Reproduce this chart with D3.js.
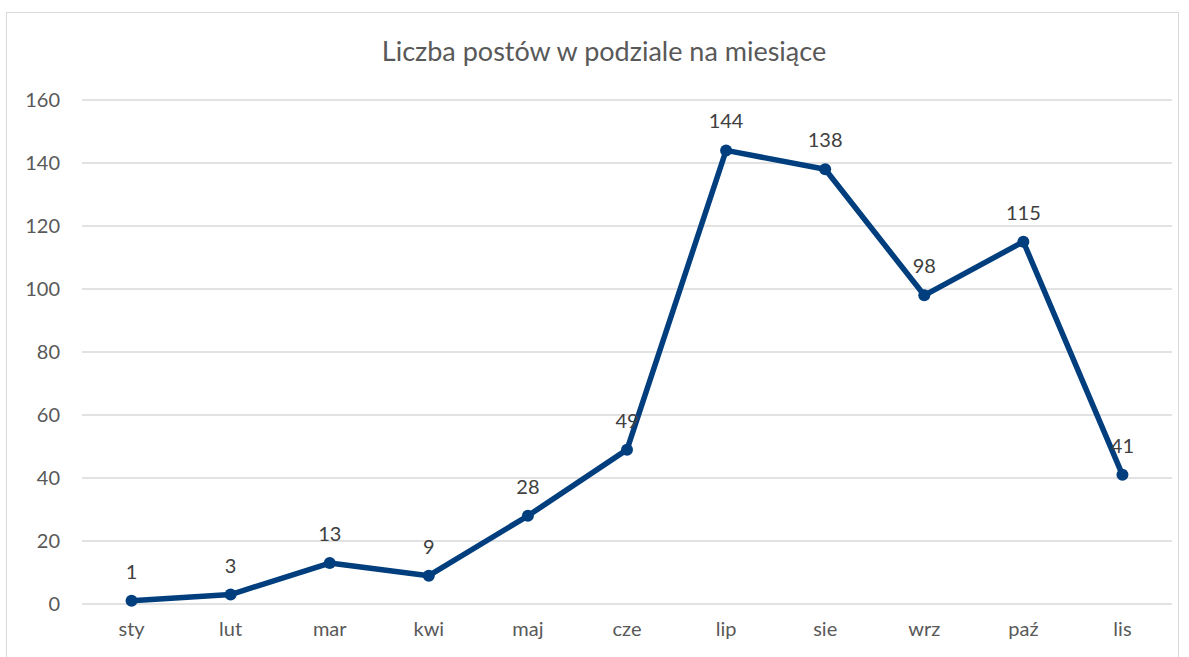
<!DOCTYPE html>
<html>
<head>
<meta charset="utf-8">
<script src="https://cdn.jsdelivr.net/npm/d3@7"></script>
<style>
  body { margin: 0; background: #fff; }
  svg text { font-family: Lato, "Open Sans", sans-serif; }
</style>
</head>
<body>
<div id="chart"></div>
<script>
// months and number of posts
var months = ["sty", "lut", "mar", "kwi", "maj", "cze", "lip", "sie", "wrz", "paź", "lis"];
var posts = [1, 3, 13, 9, 28, 49, 144, 138, 98, 115, 41];
var yTicks = [0, 20, 40, 60, 80, 100, 120, 140, 160];
var title = "Liczba postów w podziale na miesiące";

var width = 1189, height = 657;
var plotLeft = 82, plotRight = 1172, plotTop = 100, plotBottom = 604;

var svg = d3.select("#chart").append("svg").attr("width", width).attr("height", height);

// chart frame
svg.append("rect").attr("x", 6.5).attr("y", 12.5).attr("width", 1172).attr("height", 700)
    .attr("fill", "#fff").attr("stroke", "#d9d9d9").attr("stroke-width", 1);

var x = d3.scaleBand().domain(months).range([plotLeft, plotRight]);
var y = d3.scaleLinear().domain([0, 160]).range([plotBottom, plotTop]);

// gridlines
svg.append("g").selectAll("line").data(yTicks).enter().append("line")
    .attr("x1", plotLeft).attr("x2", plotRight)
    .attr("y1", function(d){ return y(d); }).attr("y2", function(d){ return y(d); })
    .attr("stroke", "#d9d9d9").attr("stroke-width", 1.5);

// y axis labels
var yAxis = d3.axisLeft(y).tickValues(yTicks).tickSize(0).tickPadding(0);
var gy = svg.append("g").attr("transform", "translate(60,0)").call(yAxis);
gy.select(".domain").remove();
gy.selectAll("text").attr("fill", "#595959").style("font-size", "20px");

// x axis labels
var xAxis = d3.axisBottom(x).tickSize(0).tickPadding(0);
var gx = svg.append("g").attr("transform", "translate(0,622)").call(xAxis);
gx.select(".domain").remove();
gx.selectAll("text").attr("fill", "#595959").style("font-size", "20px");

function cx(i){ return x(months[i]) + x.bandwidth() / 2; }

var line = d3.line()
    .x(function(d, i){ return cx(i); })
    .y(function(d){ return y(d); });

svg.append("path").datum(posts).attr("d", line)
    .attr("fill", "none").attr("stroke", "#003e7e").attr("stroke-width", 5.5)
    .attr("stroke-linejoin", "round");

svg.append("g").selectAll("circle").data(posts).enter().append("circle")
    .attr("cx", function(d, i){ return cx(i); })
    .attr("cy", function(d){ return y(d); })
    .attr("r", 6).attr("fill", "#003e7e");

// data labels
svg.append("g").selectAll("text").data(posts).enter().append("text")
    .attr("x", function(d, i){ return cx(i); })
    .attr("y", function(d){ return y(d) - 22; })
    .attr("text-anchor", "middle")
    .attr("fill", "#404040").style("font-size", "20px")
    .text(function(d){ return d; });

svg.append("text").attr("x", 604).attr("y", 61).attr("text-anchor", "middle")
    .attr("fill", "#595959").style("font-size", "27px").text(title);
</script>
</body>
</html>
